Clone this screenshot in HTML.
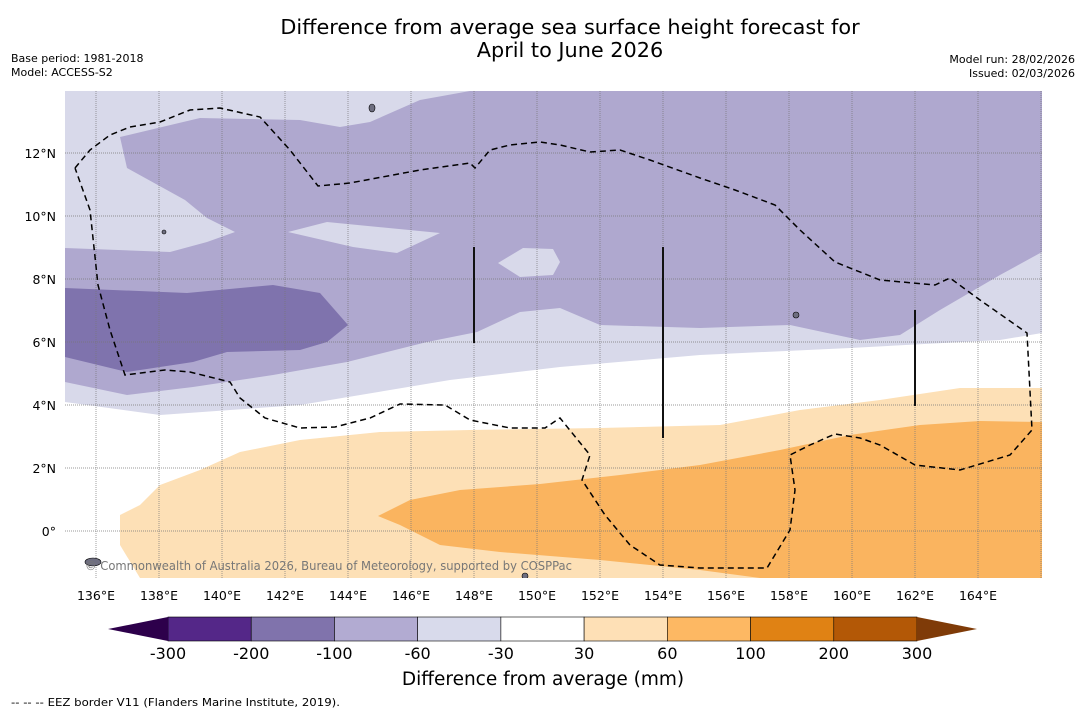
<!DOCTYPE html>
<html><head><meta charset="utf-8"><style>
body{margin:0;background:#fff;width:1085px;height:713px;overflow:hidden;font-family:"DejaVu Sans","Liberation Sans",sans-serif}
svg{position:absolute;left:0;top:0;font-family:"DejaVu Sans","Liberation Sans",sans-serif}
</style></head><body>
<svg id="s" width="1085" height="713">
<text x="570" y="34" font-size="20.8" text-anchor="middle">Difference from average sea surface height forecast for</text>
<text x="570" y="57" font-size="20.8" text-anchor="middle">April to June 2026</text>
<text x="11" y="62" font-size="11">Base period: 1981-2018</text>
<text x="11" y="76" font-size="11">Model: ACCESS-S2</text>
<text x="1075" y="63" font-size="11" text-anchor="end">Model run: 28/02/2026</text>
<text x="1075" y="77" font-size="11" text-anchor="end">Issued: 02/03/2026</text>
<defs><clipPath id="mc"><rect x="65" y="91" width="977" height="487"/></clipPath></defs>
<g id="map" clip-path="url(#mc)"></g>
<g id="ax"></g>
<g id="cb"></g>
<text x="543" y="685" font-size="18.5" text-anchor="middle">Difference from average (mm)</text>
<text x="11" y="706" font-size="11" textLength="329" lengthAdjust="spacingAndGlyphs">--  --  -- EEZ border V11 (Flanders Marine Institute, 2019).</text>
</svg>
<script>
const NS="http://www.w3.org/2000/svg";
// colorbar data
const levels=[-300,-200,-100,-60,-30,30,60,100,200,300];
const levelColors=["#542788","#8073ac","#b2abd2","#d8daeb","#ffffff","#fee0b6","#fdb863","#e08214","#b35806"];
const lonTicks=[136,138,140,142,144,146,148,150,152,154,156,158,160,162,164];
const latTicks=[0,2,4,6,8,10,12];
// contour regions in pixel-derived lon/lat (converted below)
const lightBg=[[65,91],[1042,91],[1042,578],[65,578]];
const midPurple=[[120,137],[200,118],[300,120],[340,127],[370,122],[420,100],[470,91],[1042,91],[1042,252],[1000,275],[940,310],[900,335],[860,340],[790,325],[700,328],[600,325],[560,308],[520,312],[477,332],[427,342],[347,362],[273,375],[193,387],[127,395],[65,382],[65,248],[170,252],[207,242],[235,232],[207,218],[185,200],[127,168]];
const lightPatchA=[[288,232],[327,222],[440,233],[397,253],[353,247]];
const lightPatchB=[[498,263],[523,248],[553,249],[560,262],[553,275],[520,277]];
const darkPurple=[[65,288],[187,293],[273,285],[320,293],[348,325],[327,342],[300,350],[227,352],[193,362],[127,372],[65,357]];
const whiteBand=[[65,402],[160,415],[300,405],[450,380],[560,367],[700,355],[850,348],[1000,340],[1042,333],[1042,578],[65,578]];
const lightOrange=[[1042,388],[960,388],[880,400],[800,410],[720,425],[600,428],[470,430],[380,432],[300,440],[240,452],[200,470],[160,485],[140,505],[120,515],[120,545],[140,578],[1042,578]];
const midOrange=[[378,516],[410,500],[460,490],[540,484],[620,475],[700,465],[780,450],[850,435],[920,425],[980,421],[1042,422],[1042,578],[760,578],[700,570],[600,560],[500,552],[440,545],[400,525]];
const eez=[[75,168],[90,150],[110,135],[130,127],[160,122],[190,110],[220,108],[260,117],[290,150],[318,186],[350,183],[420,170],[470,163],[475,168],[490,150],[510,145],[540,142],[560,145],[590,152],[620,150],[650,160],[700,178],[735,190],[775,205],[800,230],[835,262],[880,280],[935,285],[950,278],[980,300],[1027,333],[1032,430],[1010,455],[960,470],[915,465],[880,445],[860,438],[835,434],[810,445],[790,455],[795,490],[790,530],[767,568],[700,568],[660,565],[630,545],[605,515],[582,480],[590,455],[560,418],[545,428],[510,428],[470,420],[445,405],[400,404],[370,418],[335,427],[300,428],[265,418],[240,398],[230,382],[190,372],[165,370],[125,375],[110,330],[98,285],[90,210],[75,168]];
const bars=[[474,247,343],[663,247,438],[915,310,406]];
// axis functions
const X=lon=>96+(lon-136)*31.5, Y=lat=>531-lat*31.5;
const toLL=p=>[135+(p[0]-65)/31.5+0.0159,(531-p[1])/31.5];
const map=document.getElementById('map'),ax=document.getElementById('ax'),cb=document.getElementById('cb');
function poly(g,pts,fill,name){const p=document.createElementNS(NS,'polygon');
p.setAttribute('points',pts.map(toLL).map(q=>X(q[0]).toFixed(1)+','+Y(q[1]).toFixed(1)).join(' '));
p.setAttribute('fill',fill);


g.appendChild(p);}
poly(map,lightBg,"#d8d9ea","contour-minus60-minus30");
poly(map,midPurple,"#afa8cf","contour-minus100-minus60");
poly(map,lightPatchA,"#d8d9ea","contour-patch-a");
poly(map,lightPatchB,"#d8d9ea","contour-patch-b");
poly(map,darkPurple,"#7f73ad","contour-minus200-minus100");
poly(map,whiteBand,"#ffffff","contour-minus30-30");
poly(map,lightOrange,"#fde0b6","contour-30-60");
poly(map,midOrange,"#fab45f","contour-60-100");
// gridlines
lonTicks.concat([166]).forEach(l=>{const ln=document.createElementNS(NS,'line');ln.setAttribute('x1',X(l));ln.setAttribute('x2',X(l));ln.setAttribute('y1',91);ln.setAttribute('y2',578);ln.setAttribute('stroke','#777');ln.setAttribute('stroke-width','0.7');ln.setAttribute('stroke-dasharray','1,1');


map.appendChild(ln);});
latTicks.forEach(l=>{const ln=document.createElementNS(NS,'line');ln.setAttribute('y1',Y(l));ln.setAttribute('y2',Y(l));ln.setAttribute('x1',65);ln.setAttribute('x2',1042);ln.setAttribute('stroke','#777');ln.setAttribute('stroke-width','0.7');ln.setAttribute('stroke-dasharray','1,1');


map.appendChild(ln);});
// eez
const pl=document.createElementNS(NS,'polyline');
pl.setAttribute('points',eez.map(p=>p.join(',')).join(' '));
pl.setAttribute('fill','none');pl.setAttribute('stroke','#000');pl.setAttribute('stroke-width','1.5');pl.setAttribute('stroke-dasharray','6,4');


map.appendChild(pl);
bars.forEach(b=>{const ln=document.createElementNS(NS,'line');ln.setAttribute('x1',b[0]);ln.setAttribute('x2',b[0]);ln.setAttribute('y1',b[1]);ln.setAttribute('y2',b[2]);ln.setAttribute('stroke','#111');ln.setAttribute('stroke-width','2');


map.appendChild(ln);});
// islands
[[372,108,3,4],[796,315,3,3],[93,562,8,4],[525,576,3,3],[164,232,2,2]].forEach(i=>{const e=document.createElementNS(NS,'ellipse');e.setAttribute('cx',i[0]);e.setAttribute('cy',i[1]);e.setAttribute('rx',i[2]);e.setAttribute('ry',i[3]);e.setAttribute('fill','#6e6e80');e.setAttribute('stroke','#000');e.setAttribute('stroke-width','0.6');


map.appendChild(e);});
const cr=document.createElementNS(NS,'text');cr.setAttribute('x',85);cr.setAttribute('y',570);cr.setAttribute('font-size','12');cr.setAttribute('fill','#777');cr.setAttribute('textLength','487');cr.setAttribute('lengthAdjust','spacingAndGlyphs');cr.textContent='© Commonwealth of Australia 2026, Bureau of Meteorology, supported by COSPPac';


map.appendChild(cr);
// tick labels
lonTicks.forEach(l=>{const t=document.createElementNS(NS,'text');t.setAttribute('x',X(l));t.setAttribute('y',600);t.setAttribute('font-size','12.5');t.setAttribute('text-anchor','middle');t.textContent=l+'°E';


ax.appendChild(t);});
latTicks.forEach(l=>{const t=document.createElementNS(NS,'text');t.setAttribute('x',56);t.setAttribute('y',Y(l)+5);t.setAttribute('font-size','12.5');t.setAttribute('text-anchor','end');t.textContent=l===0?'0°':l+'°N';


ax.appendChild(t);});
// colorbar
const cx0=168,cw=(917-168)/(levels.length-1),cy=617,ch=24;
levelColors.forEach((c,i)=>{const r=document.createElementNS(NS,'rect');r.setAttribute('x',cx0+i*cw);r.setAttribute('y',cy);r.setAttribute('width',cw);r.setAttribute('height',ch);r.setAttribute('fill',c);r.setAttribute('stroke','#000');r.setAttribute('stroke-width','0.6');


cb.appendChild(r);});
[[`${cx0},${cy} ${cx0},${cy+ch} 108,${cy+ch/2}`,"#2d004b","colorbar-min-extend"],[`917,${cy} 917,${cy+ch} 977,${cy+ch/2}`,"#7f3b08","colorbar-max-extend"]].forEach(a=>{const p=document.createElementNS(NS,'polygon');p.setAttribute('points',a[0]);p.setAttribute('fill',a[1]);


cb.appendChild(p);});
levels.forEach((v,i)=>{const t=document.createElementNS(NS,'text');t.setAttribute('x',cx0+i*cw);t.setAttribute('y',659);t.setAttribute('font-size','16');t.setAttribute('text-anchor','middle');t.textContent=v;


cb.appendChild(t);});
</script>
</body></html>
